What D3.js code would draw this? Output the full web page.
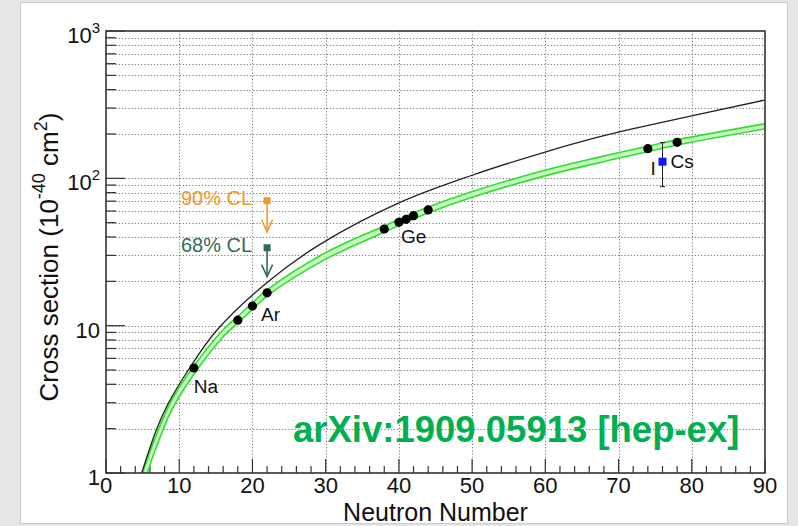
<!DOCTYPE html>
<html>
<head>
<meta charset="utf-8">
<script src="https://cdn.jsdelivr.net/npm/d3@7"></script>
<style>
html,body{margin:0;padding:0;background:#e4e5e7;}
svg{display:block;}
text{font-family:"Liberation Sans",Arial,Helvetica,sans-serif;}
</style>
</head>
<body>
<svg id="chart" width="798" height="526"></svg>
<script>
// ---------- data ----------
const xTickValues = [0,10,20,30,40,50,60,70,80,90];
const yMajorValues = [1,10,100,1000];
const yLabelBase = ["1","10","10","10"];
const yLabelSup  = [null,null,"2","3"];

// Black curve
const blackN = [4.6, 4.88, 6.92, 8.43, 11.24, 15.16, 22.13, 29.23, 40.15, 49.71, 60.19, 67.47, 71.56, 90.0];
const blackV = [0.9, 1.0, 1.99, 2.92, 5.0, 9.35, 19.9, 35.6, 68.6, 103.7, 152, 191.7, 215, 340];

// Green band (lower / upper edges)
const bandN    = [4.8, 5.3, 7.5, 9.0, 12, 16, 18, 20, 22, 30, 38, 40.2, 44, 49.7, 60.2, 67.5, 74.1, 78.1, 90];
const bandLow  = [0.73, 0.89, 1.81, 2.69, 4.68, 8.41, 10.43, 12.9, 15.9, 28.3, 43.1, 48.4, 58.2, 73.5, 104.7, 128.2, 152.3, 168.8, 217];
const bandHigh = [0.91, 1.11, 2.17, 3.15, 5.33, 9.39, 11.57, 14.3, 17.5, 31.3, 47.5, 53.2, 63.8, 80.5, 114.3, 139.8, 165.7, 183.2, 235];

// Nuclei predictions (black dots)
const pointN = [12, 18, 20, 22, 38, 40, 41, 42, 44, 74, 78];
const pointV = [5.16, 10.9, 13.6, 16.7, 45.3, 50.3, 52.7, 55.8, 61.0, 158.9, 175.6];

// Labels
const labelText = ["Na","Ar","Ge","Cs","I"];
const labelN    = [12, 22, 40, 76, 76];
const labelV    = [5.16, 16.7, 50.3, 129.7, 129.7];

// CsI measurement
const csiN = [76];
const csiV = [129.7];
const csiLow = [87.8];
const csiHigh = [175];

// Argon limits
const limitText = ["90% CL","68% CL"];
const limitN = [22, 22];
const limitV = [70.5, 33.8];
const limitTip = [43.4, 21.5];

const xTitle = "Neutron Number";
const watermark = "arXiv:1909.05913 [hep-ex]";

// ---------- drawing ----------
const svg = d3.select("#chart");
const X0=106, X1=765, Y0=31, Y1=473;
const x = d3.scaleLinear().domain([0,90]).range([X0,X1]);
const y = d3.scaleLog().domain([1,1000]).range([Y1,Y0]);
const curve = d3.curveCatmullRom.alpha(0.5);

// white panel
svg.append("rect").attr("x",20.5).attr("y",2.5).attr("width",767).attr("height",521)
  .attr("fill","#ffffff").attr("stroke","#c9cacc").attr("stroke-width",1);

svg.append("defs").append("clipPath").attr("id","plotclip")
  .append("rect").attr("x",X0).attr("y",Y0).attr("width",X1-X0).attr("height",Y1-Y0);

// grid
const grid = svg.append("g").attr("stroke","#7a7a7a").attr("stroke-width",1).attr("stroke-dasharray","1.2,2");
y.ticks().filter(v=>v>1 && v<1000).forEach(v=>{
  grid.append("line").attr("x1",X0).attr("x2",X1).attr("y1",Math.round(y(v))+0.5).attr("y2",Math.round(y(v))+0.5);
});
xTickValues.filter(v=>v>0 && v<90).forEach(v=>{
  grid.append("line").attr("y1",Y0).attr("y2",Y1).attr("x1",Math.round(x(v))+0.5).attr("x2",Math.round(x(v))+0.5);
});

// axes ticks
const axes = svg.append("g").attr("stroke","#333").attr("stroke-width",1.2);
d3.range(0,91,2).forEach(v=>{
  const major = v%10===0;
  axes.append("line").attr("x1",x(v)).attr("x2",x(v)).attr("y1",Y1).attr("y2",Y1-(major?14:7));
});
y.ticks().forEach(v=>{
  const major = yMajorValues.includes(v);
  axes.append("line").attr("x1",X0).attr("x2",X0+(major?19:10)).attr("y1",y(v)).attr("y2",y(v));
});

// band
const plot = svg.append("g").attr("clip-path","url(#plotclip)");
const bandData = bandN.map((n,i)=>({n, lo:bandLow[i], hi:bandHigh[i]}));
plot.append("path").datum(bandData)
  .attr("d", d3.area().x(d=>x(d.n)).y0(d=>y(d.lo)).y1(d=>y(d.hi)).curve(curve))
  .attr("fill","#c8f5c0");
["lo","hi"].forEach(k=>{
  plot.append("path").datum(bandData)
    .attr("d", d3.line().x(d=>x(d.n)).y(d=>y(d[k])).curve(curve))
    .attr("fill","none").attr("stroke","#2ee02e").attr("stroke-width",1.6);
});

// black curve
const blackData = blackN.map((n,i)=>({n, v:blackV[i]}));
plot.append("path").datum(blackData)
  .attr("d", d3.line().x(d=>x(d.n)).y(d=>y(d.v)).curve(curve))
  .attr("fill","none").attr("stroke","#222").attr("stroke-width",1.3);

// frame
svg.append("rect").attr("x",X0).attr("y",Y0).attr("width",X1-X0).attr("height",Y1-Y0)
  .attr("fill","none").attr("stroke","#333").attr("stroke-width",1.6);

// points
svg.append("g").selectAll("circle").data(pointN).join("circle")
  .attr("cx",(d)=>x(d)).attr("cy",(d,i)=>y(pointV[i])).attr("r",4.6).attr("fill","#000");

// labels
const labelOffsets = [[0,25],[-6,28],[2,21],[8,6],[-12,13]];
svg.append("g").selectAll("text").data(labelText).join("text")
  .attr("x",(d,i)=>x(labelN[i])+labelOffsets[i][0])
  .attr("y",(d,i)=>y(labelV[i])+labelOffsets[i][1])
  .attr("font-size",19).attr("fill","#111").text(d=>d);

// CsI measurement
csiN.forEach((n,i)=>{
  const cx=x(n);
  const g=svg.append("g").attr("stroke","#222").attr("stroke-width",1);
  g.append("line").attr("x1",cx).attr("x2",cx).attr("y1",y(csiHigh[i])).attr("y2",y(csiLow[i]));
  g.append("line").attr("x1",cx-2.5).attr("x2",cx+2.5).attr("y1",y(csiHigh[i])).attr("y2",y(csiHigh[i]));
  g.append("line").attr("x1",cx-2.5).attr("x2",cx+2.5).attr("y1",y(csiLow[i])).attr("y2",y(csiLow[i]));
  svg.append("rect").attr("x",cx-4).attr("y",y(csiV[i])-4).attr("width",8).attr("height",8).attr("fill","#1414ff");
});

// limits
const limitColors = ["#ee9a2a","#2f6b58"];
limitN.forEach((n,i)=>{
  const cx=x(n), cy=y(limitV[i]), ty=y(limitTip[i]);
  const c=limitColors[i];
  svg.append("line").attr("x1",cx).attr("x2",cx).attr("y1",cy+3).attr("y2",ty).attr("stroke",c).attr("stroke-width",1.6);
  svg.append("path").attr("d",`M${cx-5.5},${ty-12}L${cx},${ty}L${cx+5.5},${ty-12}`).attr("fill","none").attr("stroke",c).attr("stroke-width",1.6);
  svg.append("rect").attr("x",cx-3.5).attr("y",cy-3.5).attr("width",7).attr("height",7).attr("fill",c);
  svg.append("text").attr("x",cx-15).attr("y",cy+4.5).attr("text-anchor","end").attr("font-size",20).attr("fill",c).text(limitText[i]);
});

// tick labels
const xl = svg.append("g").attr("font-size",22).attr("fill","#111").attr("text-anchor","middle");
xTickValues.forEach(v=>{ xl.append("text").attr("x",x(v)).attr("y",493).text(String(v)); });
const yl = svg.append("g").attr("font-size",22).attr("fill","#111").attr("text-anchor","end");
yMajorValues.forEach((v,i)=>{
  const t = yl.append("text").attr("x",100).attr("y",y(v)+12);
  t.append("tspan").text(yLabelBase[i]);
  if (yLabelSup[i]) t.append("tspan").attr("font-size",15).attr("dy",-10).text(yLabelSup[i]);
});

// axis titles
svg.append("text").attr("x",(X0+X1)/2).attr("y",520.5).attr("text-anchor","middle")
  .attr("font-size",25).attr("fill","#111").text(xTitle);
const yt = svg.append("text").attr("transform","translate(58,257) rotate(-90)")
  .attr("text-anchor","middle").attr("font-size",26).attr("fill","#111");
yt.append("tspan").text("Cross section (10");
yt.append("tspan").attr("font-size",18).attr("dy",-13).text("-40");
yt.append("tspan").attr("dy",13).text(" cm");
yt.append("tspan").attr("font-size",18).attr("dy",-11).text("2");
yt.append("tspan").attr("dy",11).text(")");

// watermark
svg.append("text").attr("x",293).attr("y",442).attr("font-size",36.5).attr("font-weight","bold")
  .attr("fill","#00b050").text(watermark);
</script>
</body>
</html>
